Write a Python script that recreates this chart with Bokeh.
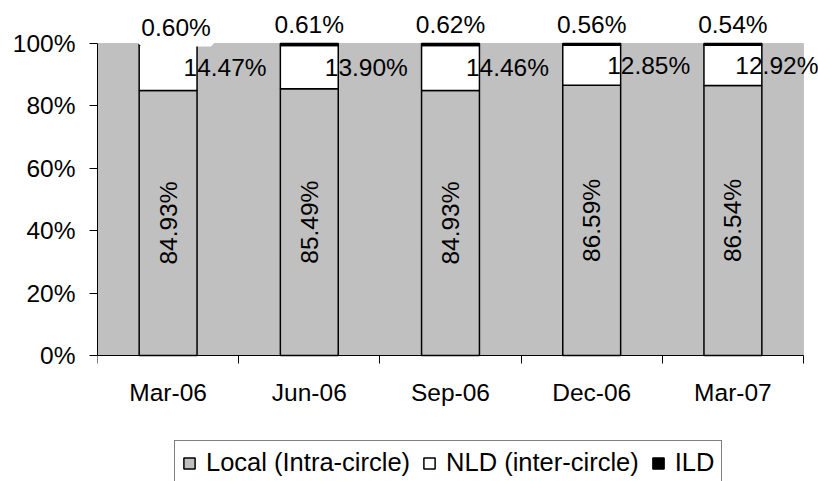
from bokeh.plotting import figure
from bokeh.models import (ColumnDataSource, Range1d, FixedTicker, PrintfTickFormatter,
                          LabelSet, Legend, LegendItem, BoxAnnotation)
from bokeh.core.properties import value
from bokeh.embed import file_html
from bokeh.resources import INLINE
import math

categories = ["Mar-06", "Jun-06", "Sep-06", "Dec-06", "Mar-07"]
local = [84.93, 85.49, 84.93, 86.59, 86.54]
nld = [14.47, 13.90, 14.46, 12.85, 12.92]
ild = [0.60, 0.61, 0.62, 0.56, 0.54]
y_ticks = [0, 20, 40, 60, 80, 100]
series_names = ["Local (Intra-circle)", "NLD (inter-circle)", "ILD"]
series_colors = ["#C0C0C0", "white", "black"]

FONT = "Liberation Sans"
FS = "24.5px"
FS_LEG = "25.5px"

n = len(categories)
xs = [i + 0.5 for i in range(n)]
nld_top = [a + b for a, b in zip(local, nld)]
ild_top = [a + b + c for a, b, c in zip(local, nld, ild)]
nld_mid = [a + b / 2 for a, b in zip(local, nld)]
nld_lbl = [f"{v:.2f}%" for v in nld]
ild_lbl = [f"{v:.2f}%" for v in ild]

src = ColumnDataSource(dict(
    x=xs,
    local_top=local,
    nld_bottom=local,
    nld_top=nld_top,
    ild_bottom=nld_top,
    ild_top=ild_top,
    local_mid=[v / 2 for v in local],
    local_lbl=[f"{v:.2f}%" for v in local],
))
# NLD labels: the last one is pulled in so it stays inside the picture (as in the original)
src_nld_main = ColumnDataSource(dict(x=xs[:-1], y=nld_mid[:-1], lbl=nld_lbl[:-1]))
src_nld_last = ColumnDataSource(dict(x=xs[-1:], y=nld_mid[-1:], lbl=nld_lbl[-1:]))
# ILD labels: the first one sits a little lower on a white box (as in the original)
src_ild_first = ColumnDataSource(dict(x=xs[:1], top=[100.0], lbl=ild_lbl[:1]))
src_ild_rest = ColumnDataSource(dict(x=xs[1:], top=[100.0] * (n - 1), lbl=ild_lbl[1:]))

# layout (pixels); the frame fills the canvas right of the y axis so nothing is clipped
FRAME_L = 97
PLOT_R, PLOT_T, PLOT_B = 803, 43, 355
W_FIG, H_FIG = 818, 481
px_per_x = (PLOT_R - FRAME_L) / n
px_per_y = (PLOT_B - PLOT_T) / 100.0
x_end = (W_FIG - FRAME_L) / px_per_x
y_start = -(H_FIG - PLOT_B) / px_per_y
y_end = 100 + PLOT_T / px_per_y

p = figure(width=W_FIG, height=H_FIG, output_backend="svg", toolbar_location=None,
           x_range=Range1d(0, x_end), y_range=Range1d(y_start, y_end),
           min_border_left=FRAME_L, min_border_right=0, min_border_top=0,
           min_border_bottom=0)
p.background_fill_color = "white"
p.border_fill_color = "white"
p.outline_line_color = None
p.xgrid.visible = False
p.ygrid.visible = False

# grey plot area
p.add_layout(BoxAnnotation(left=0, right=n, bottom=0, top=100, fill_color="#C0C0C0",
                           fill_alpha=1, line_color="#808080", line_width=1, level="underlay"))

W = 0.41
r_local = p.vbar(x="x", bottom=0, top="local_top", width=W, source=src,
                 fill_color=series_colors[0], line_color="black", line_width=1.5)
r_nld = p.vbar(x="x", bottom="nld_bottom", top="nld_top", width=W, source=src,
               fill_color=series_colors[1], line_color="black", line_width=1.5)
r_ild = p.vbar(x="x", bottom="ild_bottom", top="ild_top", width=W, source=src,
               fill_color=series_colors[2], line_color="black", line_width=1.5)

# axes
xa = p.xaxis[0]
xa.fixed_location = 0
xa.bounds = (0, n)
xa.ticker = FixedTicker(ticks=xs, minor_ticks=list(range(n + 1)))
xa.major_label_overrides = {x: c for x, c in zip(xs, categories)}
xa.major_tick_out = 0
xa.major_tick_in = 0
xa.minor_tick_out = 8
xa.minor_tick_in = 0
xa.minor_tick_line_color = "black"
xa.axis_line_color = "black"
xa.major_label_text_font = FONT
xa.major_label_text_font_size = FS
xa.major_label_text_color = "black"
xa.major_label_standoff = 15

ya = p.yaxis[0]
ya.bounds = (0, 100)
ya.ticker = FixedTicker(ticks=y_ticks)
ya.formatter = PrintfTickFormatter(format="%d%%")
ya.major_tick_out = 8
ya.major_tick_in = 0
ya.minor_tick_line_color = None
ya.major_tick_line_color = "black"
ya.axis_line_color = "black"
ya.major_label_text_font = FONT
ya.major_label_text_font_size = FS
ya.major_label_text_color = "black"
ya.major_label_standoff = 14

lbl_style = dict(text_font=value(FONT), text_font_size=value(FS), text_color="black")

# data labels
p.add_layout(LabelSet(x="x", y="local_mid", text="local_lbl", source=src, angle=math.pi / 2,
                      text_align="center", text_baseline="middle", **lbl_style))
p.add_layout(LabelSet(x="x", y="y", text="lbl", source=src_nld_main, x_offset=57,
                      text_align="center", text_baseline="middle", **lbl_style))
p.add_layout(LabelSet(x="x", y="y", text="lbl", source=src_nld_last, x_offset=44,
                      text_align="center", text_baseline="middle", **lbl_style))
p.add_layout(LabelSet(x="x", y="top", text="lbl", source=src_ild_rest, y_offset=11,
                      text_align="center", text_baseline="alphabetic", **lbl_style))
p.add_layout(LabelSet(x="x", y="top", text="lbl", source=src_ild_first, y_offset=8,
                      x_offset=8, text_align="center", text_baseline="alphabetic",
                      background_fill_color="white", border_line_color="white",
                      border_line_width=12, **lbl_style))

legend = Legend(items=[LegendItem(label=nm, renderers=[r])
                       for nm, r in zip(series_names, [r_local, r_nld, r_ild])],
                orientation="horizontal", location=(77, -4))
legend.label_text_font = FONT
legend.label_text_font_size = FS_LEG
legend.label_text_color = "black"
legend.glyph_width = 14
legend.glyph_height = 14
legend.label_standoff = 10
legend.spacing = 12
legend.padding = 7
legend.margin = 0
legend.border_line_color = "black"
legend.border_line_width = 1
legend.background_fill_color = "white"
legend.background_fill_alpha = 1
p.add_layout(legend, "center")

open("out.html", "w").write(file_html(p, INLINE))
